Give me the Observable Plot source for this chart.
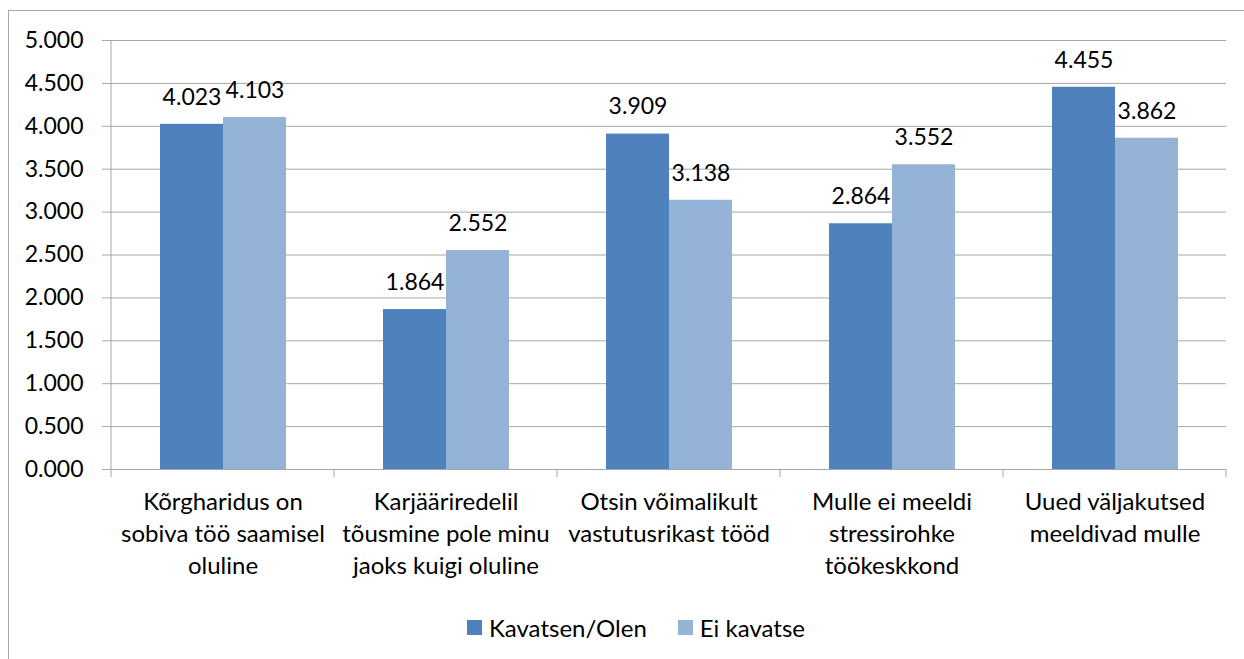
<!DOCTYPE html>
<html><head><meta charset="utf-8">
<script src="https://cdn.jsdelivr.net/npm/d3@7"></script>
<script src="https://cdn.jsdelivr.net/npm/@observablehq/plot@0.6"></script>
<style>
body{margin:0;background:#fff;overflow:hidden;font-family:Lato,sans-serif;}
#chart{position:absolute;left:0;top:0;width:1244px;height:659px;}
#frame{position:absolute;left:8px;top:10px;width:1300px;height:700px;border:1px solid #a6a6a6;pointer-events:none;}
#legend{position:absolute;left:0;top:611px;width:1244px;}
.leg-swatches{justify-content:flex-start !important;padding-left:467px;margin:0 !important;font-size:24px !important;font-family:Lato,sans-serif !important;color:#000 !important;}
.leg-swatch{margin-right:31px !important;}
.leg-swatch > svg{margin-right:7px !important;}
</style></head><body>
<div id="chart"></div><div id="legend"></div><div id="frame"></div>
<script>
const categories = [
  "Kõrgharidus on\nsobiva töö saamisel\noluline",
  "Karjääriredelil\ntõusmine pole minu\njaoks kuigi oluline",
  "Otsin võimalikult\nvastutusrikast tööd",
  "Mulle ei meeldi\nstressirohke\ntöökeskkond",
  "Uued väljakutsed\nmeeldivad mulle"
];
const series = ["Kavatsen/Olen", "Ei kavatse"];
const kavatsenValues = [4.023, 1.864, 3.909, 2.864, 4.455];
const eiKavatseValues = [4.103, 2.552, 3.138, 3.552, 3.862];
const yTicks = [0, 0.5, 1, 1.5, 2, 2.5, 3, 3.5, 4, 4.5, 5];
const colors = ["#4F81BD", "#95B3D7"];

const data = categories.flatMap((c, i) => [
  {category: c, series: series[0], value: kavatsenValues[i]},
  {category: c, series: series[1], value: eiKavatseValues[i]}
]);
const fmt = d3.format(".3f");
const gridColor = "#a6a6a6";

const plot = Plot.plot({
  width: 1244, height: 600,
  marginLeft: 111, marginRight: 18, marginTop: 40, marginBottom: 131,
  style: {fontFamily: "Lato, sans-serif", fontSize: "23px", color: "#000", background: "transparent"},
  fx: {domain: categories, padding: 0, label: null},
  x: {domain: series, paddingInner: 0, paddingOuter: 0.756, axis: null},
  y: {domain: [0, 5], label: null},
  color: {domain: series, range: colors},
  marks: [
    Plot.gridY(yTicks, {stroke: gridColor, strokeOpacity: 1}),
    Plot.barY(data, {fx: "category", x: "series", y: "value", fill: "series"}),
    Plot.ruleY([0], {stroke: gridColor}),
    Plot.text(data, {fx: "category", x: "series", y: "value", text: d => fmt(d.value), dy: -27, fontSize: 23, fill: "#000"}),
    Plot.axisY(yTicks, {tickSize: 9, tickPadding: 19, tickFormat: fmt, label: null, stroke: gridColor, fill: "#000", fontSize: 23}),
    Plot.axisFx({anchor: "bottom", tickSize: 0, tickPadding: 18, lineHeight: 1.33, fontSize: 24, label: null, fill: "#000"})
  ]
});
document.getElementById("chart").appendChild(plot);

// axis line and category boundary ticks, positioned from Plot's own scales
const fx = plot.scale("fx"), y = plot.scale("y");
const svg = d3.select(plot);
const y0 = y.apply(0), yTop = y.apply(5);
const starts = categories.map(c => fx.apply(c));
const bounds = starts.concat([starts[starts.length - 1] + fx.bandwidth]);
svg.append("line").attr("x1", bounds[0]).attr("x2", bounds[0]).attr("y1", yTop).attr("y2", y0)
  .attr("stroke", gridColor);
bounds.forEach(b => svg.append("line").attr("x1", b).attr("x2", b).attr("y1", y0).attr("y2", y0 + 8).attr("stroke", gridColor));

const legend = plot.legend("color", {swatchSize: 15, className: "leg"});
document.getElementById("legend").appendChild(legend);
</script>
</body></html>
